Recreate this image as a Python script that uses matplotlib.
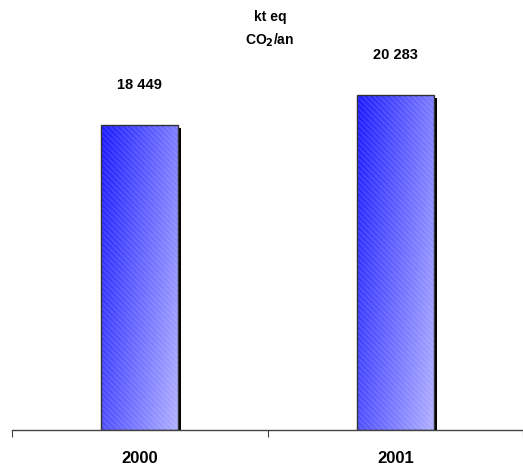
import numpy as np
import matplotlib.pyplot as plt
from matplotlib.patches import Rectangle
from matplotlib.colors import LinearSegmentedColormap
from matplotlib.transforms import offset_copy

plt.rcParams['font.family'] = ['Liberation Sans', 'DejaVu Sans']
plt.rcParams['hatch.linewidth'] = 0.6

years = ['2000', '2001']
emissions = [18449, 20283]
value_labels = ['18 449', '20 283']

W, H = 523, 466
fig = plt.figure(figsize=(W / 100, H / 100), dpi=100)
ax = fig.add_axes([12 / W, 1 - 430 / H, 1 - 12 / W, 400 / H])

ymax = 24200
ax.set_xlim(-0.5, 1.5)
ax.set_ylim(0, ymax)

cmap = LinearSegmentedColormap.from_list('bar', ['#1c1cff', '#b0b0ff'])
gx, gy = np.meshgrid(np.linspace(0, 1, 64), np.linspace(0, 1, 256))
# mostly left-to-right, lighter towards the bottom
grad = 0.65 * gx + 0.35 * gy
bw = 0.3

for i, v in enumerate(emissions):
    x0 = i - bw / 2
    # drop shadow on the right side
    shadow = Rectangle((x0, 0), bw, v, facecolor='black', edgecolor='none',
                       transform=offset_copy(ax.transData, fig=fig, x=3, y=-3, units='dots'),
                       zorder=1, clip_on=True)
    ax.add_patch(shadow)
    img = ax.imshow(grad, cmap=cmap, aspect='auto', extent=(x0, x0 + bw, 0, v),
                    origin='upper', zorder=2, interpolation='bilinear', vmin=0, vmax=1)
    rect = Rectangle((x0, 0), bw, v, facecolor='none', edgecolor='none', zorder=2)
    ax.add_patch(rect)
    img.set_clip_path(rect)
    ax.add_patch(Rectangle((x0, 0), bw, v, facecolor='none', edgecolor=(1, 1, 1, 0.18),
                           hatch='\\\\\\\\\\\\', linewidth=0, zorder=3))
    ax.add_patch(Rectangle((x0, 0), bw, v, facecolor='none', edgecolor='#333333',
                           linewidth=1.0, zorder=4))
    ax.annotate(value_labels[i], (i, v), xytext=(0, 40), textcoords='offset pixels',
                ha='center', va='center', fontsize=10.5, fontweight='bold')

ax.set_xlim(-0.5, 1.5)
ax.set_ylim(0, ymax)

for s in ['left', 'right', 'top']:
    ax.spines[s].set_visible(False)
ax.spines['bottom'].set_color('#444444')
ax.spines['bottom'].set_linewidth(1.0)
ax.set_yticks([])
ax.set_xticks([-0.5, 0.5, 1.5])
ax.set_xticklabels([])
ax.tick_params(axis='x', which='major', direction='out', length=5, color='#444444')
ax.set_xticks([0, 1], minor=True)
ax.set_xticklabels(years, minor=True, fontsize=12, fontweight='bold')
ax.tick_params(axis='x', which='minor', length=0, pad=15)

fig.text(270 / W, 1 - 17 / H, 'kt eq', ha='center', va='center', fontsize=10, fontweight='bold')
fig.text(270 / W, 1 - 40 / H, 'CO$_\\mathbf{2}$/an', ha='center', va='center', fontsize=10,
         fontweight='bold')

fig.savefig('out.png', dpi=100)
